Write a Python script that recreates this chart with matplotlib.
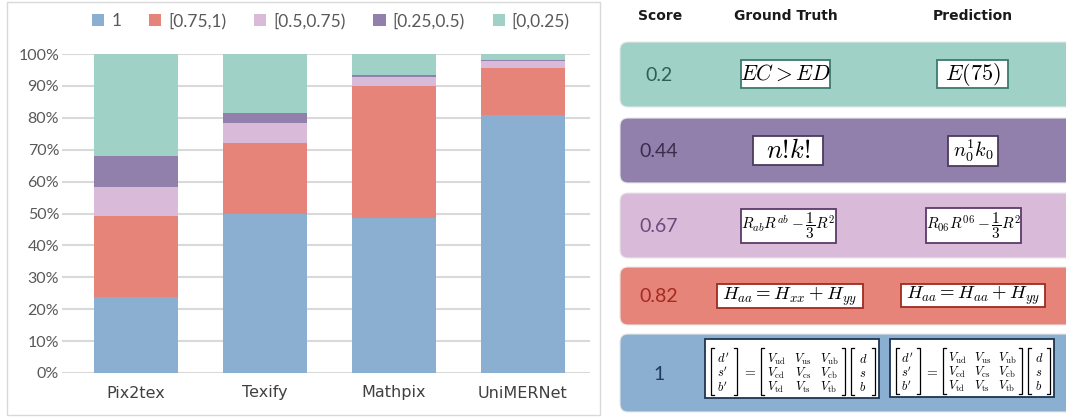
import numpy as np
import matplotlib
matplotlib.use('Agg')
from matplotlib import pyplot as plt
from matplotlib import patches

plt.rcParams['mathtext.fontset'] = 'cm'

# stacked bar data (percent of samples per score bin)
models = ['Pix2tex', 'Texify', 'Mathpix', 'UniMERNet']
bins = ['1', '[0.75,1)', '[0.5,0.75)', '[0.25,0.5)', '[0,0.25)']
score_1 = [23.9, 50.0, 48.5, 80.9]
score_75 = [25.4, 22.1, 41.5, 14.8]
score_50 = [9.0, 6.3, 2.7, 2.0]
score_25 = [9.8, 3.2, 0.6, 0.3]
score_0 = [31.9, 18.4, 6.7, 2.0]
bin_colors = ['#8AAFD1', '#E6847A', '#D9BBD9', '#9180AB', '#9FD1C7']

# example table (right side)
scores = ['0.2', '0.44', '0.67', '0.82', '1']
score_colors = ['#2E5F58', '#3A2E4C', '#6A4A7C', '#A52A1F', '#1F3A5C']
row_colors = ['#9FD1C7', '#9180AB', '#D9BBD9', '#E6847A', '#8AAFD1']
box_edges = ['#3C7A70', '#4E3A5E', '#5A3A6A', '#A02A20', '#1F3550']
gt_formulas = [r'$EC > ED$', r'$n!\!k!$', r'$R_{ab}R^{ab}-\dfrac{1}{3}R^2$',
               r'$H_{aa}=H_{xx}+H_{yy}$', None]
pred_formulas = [r'$E(75)$', r'$n_0^1k_0$', r'$R_{06}R^{06}-\dfrac{1}{3}R^2$',
                 r'$H_{aa}=H_{aa}+H_{yy}$', None]
formula_sizes = [15.5, 19, 11, 13.5, 9]
pred_sizes = [16, 14.5, 11, 13.5, 9]
vec_left = ["d'", "s'", "b'"]
ckm = [[r'V_{\mathrm{ud}}', r'V_{\mathrm{us}}', r'V_{\mathrm{ub}}'],
       [r'V_{\mathrm{cd}}', r'V_{\mathrm{cs}}', r'V_{\mathrm{cb}}'],
       [r'V_{\mathrm{td}}', r'V_{\mathrm{ts}}', r'V_{\mathrm{tb}}']]
vec_right = ['d', 's', 'b']

W, H = 1066, 417
fig = plt.figure(figsize=(W / 100, H / 100), dpi=100)

# ---------------- left: stacked bars ----------------
ax = fig.add_axes([62 / W, 1 - 373 / H, (590 - 62) / W, (373 - 54) / H])
x = np.arange(len(models))
series = [score_1, score_75, score_50, score_25, score_0]
bottom = np.zeros(len(models))
handles = []
for vals, c, lab in zip(series, bin_colors, bins):
    b = ax.bar(x, vals, width=0.65, bottom=bottom, color=c, label=lab, zorder=3)
    handles.append(b)
    bottom += np.array(vals)

ax.set_ylim(0, 100)
ax.set_xlim(-0.574, 3.52)
ax.set_yticks(range(0, 101, 10))
ax.set_yticklabels([f'{v}%' for v in range(0, 101, 10)])
ax.set_xticks(x)
ax.set_xticklabels(models)
ax.grid(True, axis='y', color='#D9D9D9', linewidth=1.5, zorder=0)
for s in ax.spines.values():
    s.set_visible(False)
ax.tick_params(axis='y', length=0, pad=2, labelsize=11.5, labelcolor='#595959')
ax.tick_params(axis='x', length=0, pad=9, labelsize=11.5, labelcolor='#404040')
for t in ax.get_yticklabels():
    t.set_family('Lato')
for t in ax.get_xticklabels():
    t.set_family('DejaVu Sans')

fig.legend(handles=handles, labels=bins, loc='center', bbox_to_anchor=(331 / W, 1 - 21 / H),
           ncol=5, frameon=False, handlelength=0.7, handleheight=0.7,
           handletextpad=0.4, columnspacing=1.6, labelcolor='#595959',
           prop={'family': 'Lato', 'size': 12.5})

fig.add_artist(patches.Rectangle((7 / W, 2 / H), (600 - 7) / W, (415 - 2) / H,
                                 transform=fig.transFigure, fill=False,
                                 edgecolor='#D9D9D9', linewidth=1))

# ---------------- right: example table ----------------
ax2 = fig.add_axes([601 / W, 0, (W - 601) / W, 1])
ax2.set_xlim(601, W)
ax2.set_ylim(H, 0)
ax2.axis('off')

for txt, xc in zip(['Score', 'Ground Truth', 'Prediction'], [660, 786, 973]):
    ax2.text(xc, 16, txt, ha='center', va='center', fontsize=10, fontweight='bold',
             color='#1A1A1A', family='DejaVu Sans')

row_spans = [(42, 107), (118, 183), (193, 258), (267, 325), (334, 412)]
gt_boxes = [(741, 60, 89, 28), (753, 136, 70, 29), (741, 209, 95, 34),
            (717, 284, 146, 24), (705, 339, 174, 59)]
pred_boxes = [(937, 60, 71, 28), (948, 136, 50, 30), (926, 208, 95, 35),
              (901, 284, 144, 23), (890, 339, 164, 58)]


def draw_bracket(ax, x0, x1, y0, y1, color='black'):
    ax.plot([x0 + 3, x0, x0, x0 + 3], [y0, y0, y1, y1], color=color, lw=0.9)
    ax.plot([x1 - 3, x1, x1, x1 - 3], [y0, y0, y1, y1], color=color, lw=0.9)


def draw_matrix(ax, bx, by, bw, bh, fs):
    sx = bw / 174.0
    ys = [by + bh * f for f in (0.34, 0.58, 0.82)]
    yt, yb = by + 0.15 * bh, by + 0.95 * bh
    # left vector
    draw_bracket(ax, bx + 6 * sx, bx + 32 * sx, yt, yb)
    for yy, v in zip(ys, vec_left):
        ax.text(bx + 18 * sx, yy, f'${v}$', ha='center', va='center', fontsize=fs)
    ax.text(bx + 44 * sx, (yt + yb) / 2, '$=$', ha='center', va='center', fontsize=fs + 1)
    # matrix
    draw_bracket(ax, bx + 56 * sx, bx + 140 * sx, yt, yb)
    for yy, row in zip(ys, ckm):
        for xo, e in zip((71, 98, 124), row):
            ax.text(bx + xo * sx, yy, f'${e}$', ha='center', va='center', fontsize=fs)
    # right vector
    draw_bracket(ax, bx + 146 * sx, bx + 170 * sx, yt, yb)
    for yy, v in zip(ys, vec_right):
        ax.text(bx + 158 * sx, yy, f'${v}$', ha='center', va='center', fontsize=fs)


for i, (y0, y1) in enumerate(row_spans):
    ax2.add_patch(patches.FancyBboxPatch((620, y0), 480, y1 - y0,
                                         boxstyle='round,pad=0,rounding_size=8',
                                         facecolor=row_colors[i], edgecolor='#E8E8E8',
                                         linewidth=0.8))
    yc = (y0 + y1) / 2
    ax2.text(659, yc + 1, scores[i], ha='center', va='center', fontsize=14,
             color=score_colors[i], family='Lato')
    for box, f, fs in zip([gt_boxes[i], pred_boxes[i]], [gt_formulas[i], pred_formulas[i]],
                          [formula_sizes[i], pred_sizes[i]]):
        bx, by, bw, bh = box
        ax2.add_patch(patches.Rectangle((bx, by), bw, bh, facecolor='white',
                                        edgecolor=box_edges[i], linewidth=1.3))
        if f is None:
            draw_matrix(ax2, bx, by, bw, bh, fs)
        else:
            ax2.text(bx + bw / 2, by + bh / 2, f, ha='center', va='center',
                     fontsize=fs, color='black')

plt.savefig('out.png', dpi=100)
